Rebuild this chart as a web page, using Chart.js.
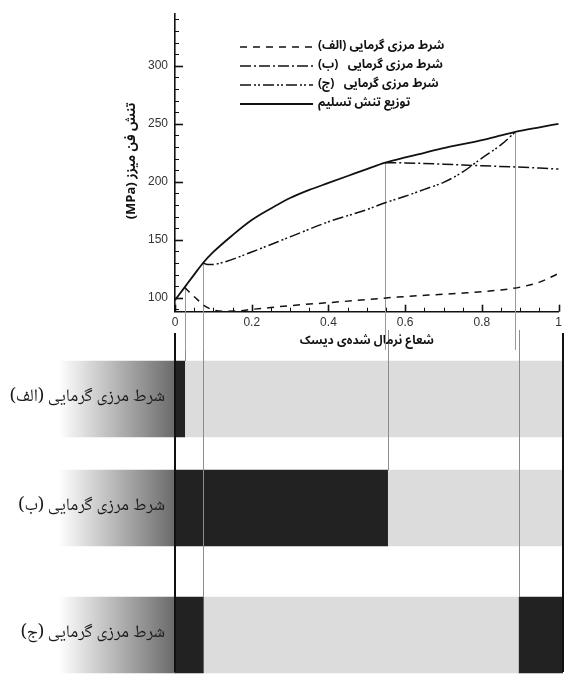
<!DOCTYPE html>
<html>
<head>
<meta charset="utf-8">
<script src="https://cdn.jsdelivr.net/npm/chart.js@4.4.1/dist/chart.umd.min.js"></script>
<style>
  html, body { margin: 0; padding: 0; background: #fff; width: 566px; height: 675px; overflow: hidden; }
  #wrap { position: relative; width: 566px; height: 675px; }
  #stress { position: absolute; left: 0; top: 0; z-index: 2; }
  #zones { position: absolute; left: 0; top: 330px; z-index: 1; }
</style>
</head>
<body>
<div id="wrap">
  <canvas id="stress" dir="rtl" width="566" height="350"></canvas>
  <canvas id="zones" dir="rtl" width="566" height="375"></canvas>
</div>
<script>
// ---- data: normalised disk radius vs. von Mises stress (MPa) ----
const yieldR = [0, 0.025, 0.05, 0.073, 0.1, 0.15, 0.2, 0.25, 0.3, 0.35, 0.4, 0.45, 0.5, 0.548, 0.6, 0.65, 0.7, 0.75, 0.8, 0.85, 0.887, 0.95, 1];
const yieldS = [98, 109, 120, 130, 139.5, 154, 167, 177, 186, 193, 199, 205, 211, 216.5, 221, 225, 229, 232.5, 236, 240, 243, 247, 250];

const alefR = [0.025, 0.04, 0.06, 0.075, 0.1, 0.13, 0.17, 0.2, 0.25, 0.3, 0.4, 0.5, 0.58, 0.66, 0.76, 0.85, 0.9, 0.95, 1];
const alefS = [109, 104, 98, 93.5, 89.5, 88.4, 88.8, 90, 91.6, 93.2, 95.8, 98.4, 100.6, 102.3, 104.3, 106.8, 109.2, 113.5, 121];

const beR = [0.548, 0.6, 0.7, 0.8, 0.887, 0.95, 1];
const beS = [216.5, 216.3, 215.2, 213.8, 212.8, 211.8, 211];

const jimR = [0.073, 0.085, 0.1, 0.13, 0.2, 0.3, 0.4, 0.5, 0.548, 0.6, 0.65, 0.7, 0.75, 0.8, 0.85, 0.887];
const jimS = [130, 128.7, 128.8, 131, 139.5, 152.5, 165.5, 176, 182, 187.5, 193.5, 199.5, 208.5, 220.5, 232, 243];

// radii where a boundary-condition curve meets the yield curve, and the case it belongs to
const transitionR = [0.025, 0.073, 0.548, 0.887];
const transitionRow = ['الف', 'ج', 'ب', 'ج'];

// tick values
const xTicks = [0, 0.2, 0.4, 0.6, 0.8, 1];
const yTicks = [100, 150, 200, 250, 300];

// plastic (dark) and elastic (light) zones along the radius for each case
const rowLabels = ['الف', 'ب', 'ج'];
const plasticAlef = [[0, 0.025]];
const plasticBe = [[0, 0.548]];
const plasticJim = [[0, 0.073], [0.887, 1]];
const elasticAlef = [[0.025, 1]];
const elasticBe = [[0.548, 1]];
const elasticJim = [[0.073, 0.887]];

// ---- styling ----
const AR = '"Noto Naskh Arabic", "Noto Sans Arabic", "DejaVu Sans", sans-serif';
const ARB = '"Noto Sans Arabic", "Noto Naskh Arabic", "DejaVu Sans", sans-serif';
const NUM = '"Liberation Sans", Arial, sans-serif';
const yTitle = 'تنش فن میزز (MPa)';
Chart.defaults.font.family = NUM;
Chart.defaults.color = '#333';

const pts = (r, s) => r.map((x, i) => ({ x, y: s[i] }));

const seriesStyle = { borderColor: '#111', pointRadius: 0, fill: false, cubicInterpolationMode: 'monotone' };

// inward tick marks on both axes, plus the rotated stress title
const innerTicks = {
  id: 'innerTicks',
  afterDraw(chart) {
    const { ctx, chartArea: a, scales: { x, y } } = chart;
    ctx.save();
    ctx.strokeStyle = '#111';
    for (let v = Math.ceil(y.min / 10) * 10; v <= y.max; v += 10) {
      const major = v % 50 === 0;
      const py = Math.round(y.getPixelForValue(v)) + 0.5;
      ctx.lineWidth = major ? 1.6 : 1;
      ctx.beginPath(); ctx.moveTo(a.left, py); ctx.lineTo(a.left + (major ? 8 : 4), py); ctx.stroke();
    }
    for (let k = 0; k <= 20; k++) {
      const major = k % 4 === 0;
      const px = Math.round(x.getPixelForValue(k / 20)) + 0.5;
      ctx.lineWidth = major ? 1.6 : 1;
      ctx.beginPath(); ctx.moveTo(px, a.bottom); ctx.lineTo(px, a.bottom - (major ? 7 : 4)); ctx.stroke();
    }
    ctx.translate(133, 161);
    ctx.rotate(-Math.PI / 2);
    ctx.direction = 'rtl';
    ctx.font = 'bold 13px ' + ARB;
    ctx.fillStyle = '#111';
    ctx.textAlign = 'center';
    ctx.textBaseline = 'middle';
    ctx.fillText(yTitle, 0, 0);
    ctx.restore();
  }
};

// thin guide lines dropping from each transition point
const guideLines = {
  id: 'guideLines',
  beforeDatasetsDraw(chart) {
    const { ctx, scales: { x, y } } = chart;
    ctx.save();
    ctx.strokeStyle = '#9a9a9a';
    ctx.lineWidth = 1;
    transitionR.forEach((r) => {
      const px = Math.round(x.getPixelForValue(r)) + 0.5;
      const py = y.getPixelForValue(yieldS[yieldR.indexOf(r)]);
      ctx.beginPath(); ctx.moveTo(px, py); ctx.lineTo(px, chart.height); ctx.stroke();
    });
    ctx.restore();
  }
};

// legend with line samples drawn in each dataset's dash pattern
const lineLegend = {
  id: 'lineLegend',
  afterDraw(chart) {
    const { ctx } = chart;
    ctx.save();
    ctx.direction = 'rtl';
    ctx.font = 'bold 12px ' + ARB;
    ctx.fillStyle = '#111';
    ctx.textAlign = 'left';
    ctx.textBaseline = 'middle';
    chart.data.datasets.forEach((ds, i) => {
      const yy = 47 + i * 19;
      ctx.strokeStyle = '#111';
      ctx.lineWidth = ds.borderWidth;
      ctx.setLineDash(ds.borderDash || []);
      ctx.beginPath(); ctx.moveTo(240, yy); ctx.lineTo(313, yy); ctx.stroke();
      ctx.setLineDash([]);
      ctx.fillText(ds.label, 318, yy);
    });
    ctx.restore();
  }
};

new Chart(document.getElementById('stress'), {
  type: 'line',
  data: {
    datasets: [
      { ...seriesStyle, label: 'شرط مرزی گرمایی (الف)', data: pts(alefR, alefS), borderWidth: 1.5, borderDash: [7, 6] },
      { ...seriesStyle, label: 'شرط مرزی گرمایی   (ب)', data: pts(beR, beS), borderWidth: 1.5, borderDash: [11, 3, 2, 3] },
      { ...seriesStyle, label: 'شرط مرزی گرمایی   (ج)', data: pts(jimR, jimS), borderWidth: 1.5, borderDash: [11, 3, 2, 2, 2, 3] },
      { ...seriesStyle, label: 'توزیع تنش تسلیم', data: pts(yieldR, yieldS), borderWidth: 1.8, borderDash: [] }
    ]
  },
  options: {
    responsive: false,
    animation: false,
    devicePixelRatio: 1,
    layout: { padding: { top: 7, right: 3, left: 0, bottom: 0 } },
    plugins: { legend: { display: false }, tooltip: { enabled: false } },
    scales: {
      x: {
        type: 'linear', min: 0, max: 1,
        afterBuildTicks: (s) => { s.ticks = xTicks.map((v) => ({ value: v })); },
        afterFit: (s) => { s.height = 38.3; },
        grid: { display: false, drawTicks: false },
        border: { color: '#111', width: 1.6 },
        ticks: { autoSkip: false, maxRotation: 0, padding: 4, color: '#333', font: { size: 12, family: NUM },
                 callback: (v) => String(Math.round(v * 10) / 10) },
        title: { display: true, text: 'شعاع نرمال شده‌ی دیسک', color: '#111',
                 font: { size: 12, weight: 'bold', family: ARB }, padding: { top: 0, bottom: 1 } }
      },
      y: {
        type: 'linear', min: 88, max: 344.5,
        afterBuildTicks: (s) => { s.ticks = yTicks.map((v) => ({ value: v })); },
        afterFit: (s) => { s.width = 175; },
        grid: { display: false, drawTicks: false },
        border: { color: '#111', width: 1.6 },
        ticks: { autoSkip: false, padding: 7, color: '#333', font: { size: 12, family: NUM } }
      }
    }
  },
  plugins: [guideLines, innerTicks, lineLegend]
});

// ---- zone bars below the curves ----
const rowKeys = ['rA', 'rB', 'rC'];
const rowSlots = [94, 124, 130];
const plasticRows = [plasticAlef, plasticBe, plasticJim];
const elasticRows = [elasticAlef, elasticBe, elasticJim];
const labelBand = [-0.3, 0];
const BAR = 76;

const bandFill = (c) => {
  const xs = c.chart.scales.x;
  const x0 = xs ? xs.getPixelForValue(labelBand[0]) : NaN;
  const x1 = xs ? xs.getPixelForValue(labelBand[1]) : NaN;
  if (!Number.isFinite(x0) || !Number.isFinite(x1)) return '#9a9a9a';
  const g = c.chart.ctx.createLinearGradient(x0, 0, x1, 0);
  g.addColorStop(0, '#ffffff');
  g.addColorStop(1, '#6a6a6a');
  return g;
};

const zoneSets = [];
rowLabels.forEach((lab, i) => {
  const common = { yAxisID: rowKeys[i], barThickness: BAR, grouped: false, borderWidth: 0, borderSkipped: false };
  zoneSets.push({ ...common, order: 0, backgroundColor: '#222', data: plasticRows[i].map((s) => ({ x: s, y: lab })) });
  zoneSets.push({ ...common, order: 1, backgroundColor: '#dcdcdc', data: elasticRows[i].map((s) => ({ x: s, y: lab })) });
  zoneSets.push({ ...common, order: 2, backgroundColor: bandFill, data: [{ x: labelBand, y: lab }] });
});

const rowScales = {};
rowKeys.forEach((k, i) => {
  rowScales[k] = { type: 'category', labels: [rowLabels[i]], offset: true, position: 'left',
                   stack: 'rows', stackWeight: rowSlots[i], weight: 3 - i, display: false };
});

const zoneDecor = {
  id: 'zoneDecor',
  afterDatasetsDraw(chart) {
    const { ctx, scales } = chart;
    const xs = scales.x;
    ctx.save();
    // guide lines continuing from the curves down to their case bar
    ctx.strokeStyle = '#8c8c8c';
    ctx.lineWidth = 1;
    transitionR.forEach((r, j) => {
      const ri = rowLabels.indexOf(transitionRow[j]);
      const top = scales[rowKeys[ri]].getPixelForValue(0) - BAR / 2;
      const px = Math.round(xs.getPixelForValue(r)) + 0.5;
      ctx.beginPath(); ctx.moveTo(px, 0); ctx.lineTo(px, top); ctx.stroke();
    });
    // disk centre and rim
    ctx.strokeStyle = '#111';
    ctx.lineWidth = 2;
    [0, 1].forEach((r) => {
      const px = xs.getPixelForValue(r);
      ctx.beginPath(); ctx.moveTo(px, 3); ctx.lineTo(px, 342); ctx.stroke();
    });
    // case names
    ctx.direction = 'rtl';
    ctx.font = '17.5px ' + AR;
    ctx.fillStyle = '#1a1a1a';
    ctx.textAlign = 'right';
    ctx.textBaseline = 'middle';
    rowLabels.forEach((lab, i) => {
      const py = scales[rowKeys[i]].getPixelForValue(0);
      ctx.fillText('شرط مرزی گرمایی (' + lab + ')', xs.getPixelForValue(0) - 10, py);
    });
    ctx.restore();
  }
};

new Chart(document.getElementById('zones'), {
  type: 'bar',
  data: { datasets: zoneSets },
  options: {
    indexAxis: 'y',
    responsive: false,
    animation: false,
    devicePixelRatio: 1,
    layout: { padding: { top: 22, bottom: 5, left: 58.6, right: 3 } },
    plugins: { legend: { display: false }, tooltip: { enabled: false } },
    scales: {
      x: { type: 'linear', min: labelBand[0], max: 1, display: false },
      ...rowScales
    }
  },
  plugins: [zoneDecor]
});
</script>
</body>
</html>
